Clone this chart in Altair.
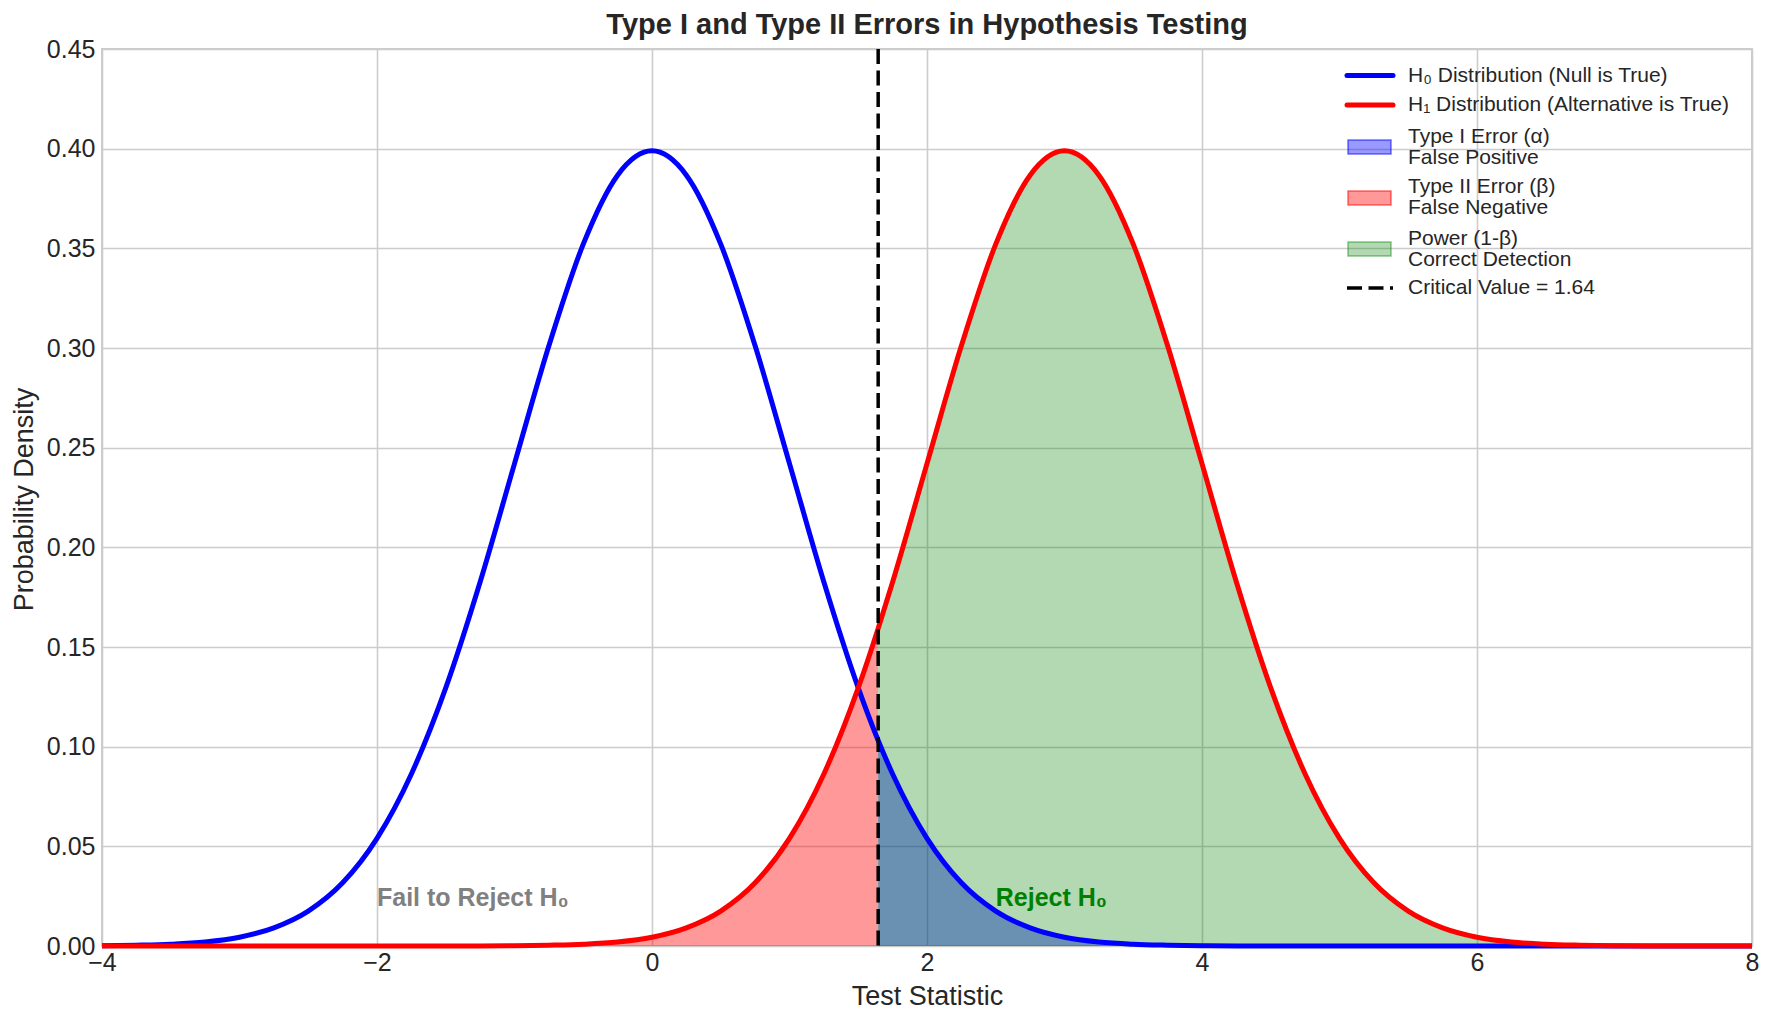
import altair as alt
import pandas as pd

# Test statistic grid (critical value included as a sample point)
X = [-4.0, -3.75, -3.5, -3.25, -3.0, -2.75, -2.5, -2.25, -2.0, -1.75, -1.5, -1.25,
     -1.0, -0.75, -0.5, -0.25, 0.0, 0.25, 0.5, 0.75, 1.0, 1.25, 1.5, 1.6449,
     1.75, 2.0, 2.25, 2.5, 2.75, 3.0, 3.25, 3.5, 3.75, 4.0, 4.25, 4.5, 4.75,
     5.0, 5.25, 5.5, 5.75, 6.0, 6.25, 6.5, 6.75, 7.0, 7.25, 7.5, 7.75, 8.0]

# Density under H0 (null, centred at 0)
NULL_DENSITY = [0.0001, 0.0004, 0.0009, 0.0020, 0.0044, 0.0091, 0.0175, 0.0317, 0.0540,
                0.0863, 0.1295, 0.1826, 0.2420, 0.3011, 0.3521, 0.3867, 0.3989, 0.3867,
                0.3521, 0.3011, 0.2420, 0.1826, 0.1295, 0.1031, 0.0863, 0.0540, 0.0317,
                0.0175, 0.0091, 0.0044, 0.0020, 0.0009, 0.0004, 0.0001, 0.0, 0.0, 0.0,
                0.0, 0.0, 0.0, 0.0, 0.0, 0.0, 0.0, 0.0, 0.0, 0.0, 0.0, 0.0, 0.0]

# Density under H1 (alternative, centred at 3)
ALT_DENSITY = [0.0, 0.0, 0.0, 0.0, 0.0, 0.0, 0.0, 0.0, 0.0, 0.0, 0.0, 0.0,
               0.0001, 0.0004, 0.0009, 0.0020, 0.0044, 0.0091, 0.0175, 0.0317, 0.0540,
               0.0863, 0.1295, 0.1593, 0.1826, 0.2420, 0.3011, 0.3521, 0.3867, 0.3989,
               0.3867, 0.3521, 0.3011, 0.2420, 0.1826, 0.1295, 0.0863, 0.0540, 0.0317,
               0.0175, 0.0091, 0.0044, 0.0020, 0.0009, 0.0004, 0.0001, 0.0, 0.0, 0.0, 0.0]

CRIT = 1.6449

REGION_X = [-2.0, 2.5]
REGION_Y = [0.02, 0.02]
REGION_TEXT = ["Fail to Reject H₀", "Reject H₀"]
REGION_COLOR = ["#808080", "#008000"]

X_TICKS = [-4, -2, 0, 2, 4, 6, 8]
Y_TICKS = [0.0, 0.05, 0.10, 0.15, 0.20, 0.25, 0.30, 0.35, 0.40, 0.45]

W, H = 1650, 897
FONT = "Liberation Sans"
INK = "#262626"
LW = 5

df = pd.DataFrame({"x": X, "h0": NULL_DENSITY, "h1": ALT_DENSITY})

xs = alt.Scale(domain=[-4, 8], nice=False)
ys = alt.Scale(domain=[0, 0.45], nice=False)

x_axis = alt.Axis(values=X_TICKS, format="d", title="Test Statistic",
                  titleX=W / 2, titleY=50, titleAlign="center", titleBaseline="middle")
y_axis = alt.Axis(values=Y_TICKS, format=".2f", title="Probability Density",
                  titleX=-78, titleY=450, titleAngle=270, titleAlign="center",
                  titleBaseline="middle")

base = alt.Chart(df)

type1 = base.transform_filter(alt.datum.x >= CRIT).mark_area(
    color="#0000ff", opacity=0.4, interpolate="monotone"
).encode(x=alt.X("x:Q", scale=xs, axis=x_axis), y=alt.Y("h0:Q", scale=ys, axis=y_axis))

type2 = base.transform_filter(alt.datum.x <= CRIT).mark_area(
    color="#ff0000", opacity=0.4, interpolate="monotone"
).encode(x=alt.X("x:Q", scale=xs), y=alt.Y("h1:Q", scale=ys))

power = base.transform_filter(alt.datum.x >= CRIT).mark_area(
    color="#008000", opacity=0.3, interpolate="monotone"
).encode(x=alt.X("x:Q", scale=xs), y=alt.Y("h1:Q", scale=ys))

null_line = base.mark_line(color="#0000ff", strokeWidth=LW, interpolate="monotone").encode(
    x=alt.X("x:Q", scale=xs), y=alt.Y("h0:Q", scale=ys))
alt_line = base.mark_line(color="#ff0000", strokeWidth=LW, interpolate="monotone").encode(
    x=alt.X("x:Q", scale=xs), y=alt.Y("h1:Q", scale=ys))

crit_rule = alt.Chart(pd.DataFrame({"x": [CRIT]})).mark_rule(
    color="black", strokeWidth=3.5, strokeDash=[15, 6.5]
).encode(x=alt.X("x:Q", scale=xs))

regions = alt.Chart(pd.DataFrame({"x": REGION_X, "y": REGION_Y, "t": REGION_TEXT,
                                  "c": REGION_COLOR})).mark_text(
    align="left", baseline="alphabetic", fontWeight="bold", fontSize=25, font=FONT
).encode(x=alt.X("x:Q", scale=xs), y=alt.Y("y:Q", scale=ys), text="t:N",
         color=alt.Color("c:N", scale=None))

# Legend, drawn in the plot's upper-right corner
one = pd.DataFrame({"k": [0]})
LX0, LX1, TX = 1245, 1291, 1306
LEG_FS, LEG_LH = 21, 21


def leg_line(y, color, dash=None):
    kw = dict(color=color, strokeWidth=LW if dash is None else 3.5)
    if dash is None:
        kw["strokeCap"] = "round"
    else:
        kw["strokeDash"] = dash
    return alt.Chart(one).mark_rule(**kw).encode(
        x=alt.value(LX0), x2=alt.value(LX1), y=alt.value(y))


def leg_patch(y, color, op):
    return alt.Chart(one).mark_rect(color=color, fillOpacity=op, strokeOpacity=op + 0.15,
                                    stroke=color, strokeWidth=1.5).encode(
        x=alt.value(LX0 + 1), x2=alt.value(LX0 + 44), y=alt.value(y - 7), y2=alt.value(y + 7))


def leg_text(y, txt):
    # multi-line labels: first line sits at y, so shift up by half a line per extra line
    n = txt.count("\n")
    return alt.Chart(one).mark_text(align="left", baseline="middle", fontSize=LEG_FS, font=FONT,
                                    color=INK, lineBreak="\n", lineHeight=LEG_LH, text=txt).encode(
        x=alt.value(TX), y=alt.value(y - n * LEG_LH / 2))


legend = [
    leg_line(26.5, "#0000ff"), leg_text(27, "H₀ Distribution (Null is True)"),
    leg_line(56, "#ff0000"), leg_text(56, "H₁ Distribution (Alternative is True)"),
    leg_patch(98, "#0000ff", 0.4), leg_text(98, "Type I Error (α)\nFalse Positive"),
    leg_patch(149, "#ff0000", 0.4), leg_text(148.5, "Type II Error (β)\nFalse Negative"),
    leg_patch(200, "#008000", 0.3), leg_text(200, "Power (1-β)\nCorrect Detection"),
    leg_line(239, "black", dash=[15, 6.5]), leg_text(239, f"Critical Value = {CRIT:.2f}"),
]

chart = alt.layer(type1, type2, power, null_line, alt_line, crit_rule, regions, *legend).properties(
    width=W, height=H,
    padding={"left": 102, "top": 49, "right": 23, "bottom": 79},
    autosize=alt.AutoSizeParams(type="none"),
    background="white",
    title=alt.TitleParams("Type I and Type II Errors in Hypothesis Testing", fontSize=29,
                          fontWeight="bold", color=INK, anchor="middle", frame="group",
                          offset=13, baseline="alphabetic", font=FONT, dy=39),
).configure_axis(
    grid=True, gridColor="#cccccc", gridWidth=1.6, domain=False, ticks=False,
    labelFont=FONT, labelFontSize=25, labelColor=INK, labelFlush=False, labelOverlap=False,
    titleFont=FONT, titleFontSize=27, titleFontWeight="normal", titleColor=INK,
).configure_axisX(labelPadding=4).configure_axisY(labelPadding=7).configure_view(
    stroke="#cccccc", strokeWidth=2
)

chart.save("out.html", embed_options={"renderer": "svg", "actions": False})
